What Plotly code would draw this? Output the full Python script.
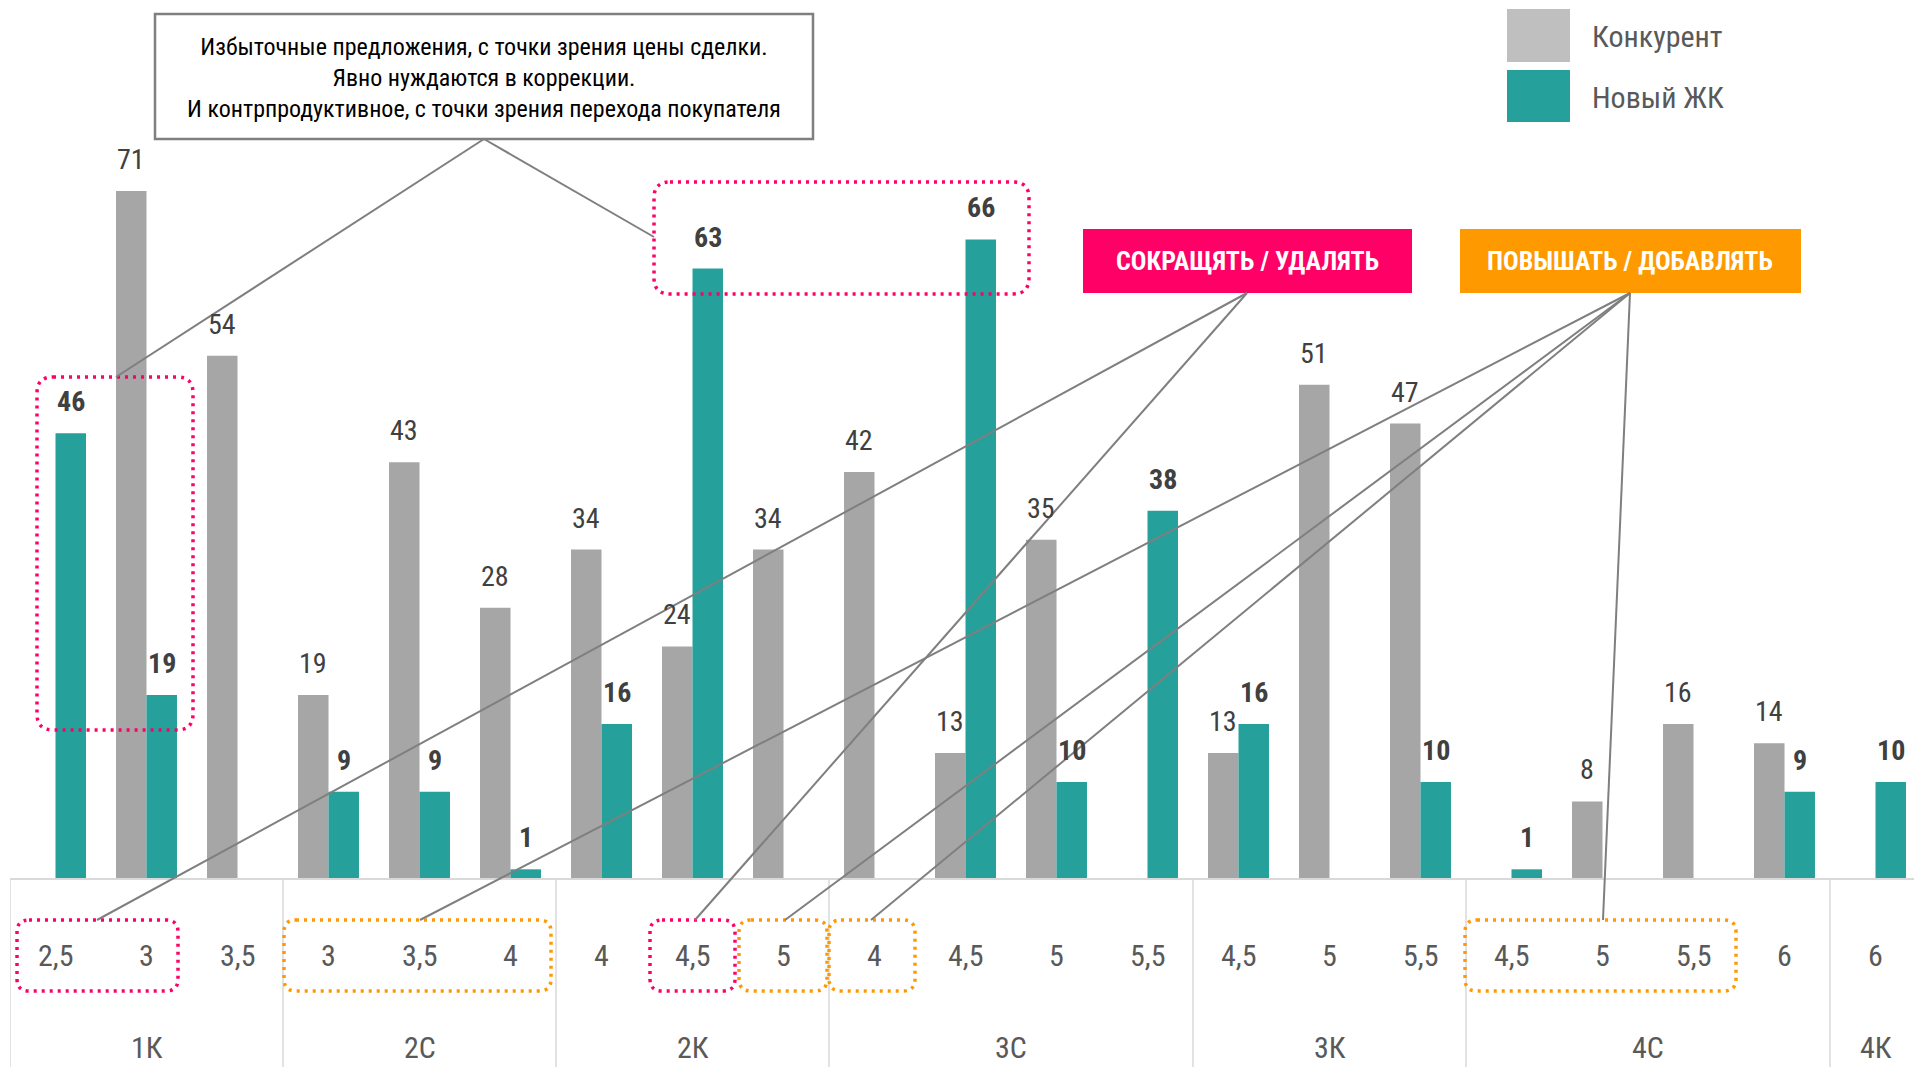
import plotly.graph_objects as go

# Price-band labels (second tick row) and apartment-type groups (first tick row)
price_labels = ["2,5", "3", "3,5",
                "3", "3,5", "4",
                "4", "4,5", "5",
                "4", "4,5", "5", "5,5",
                "4,5", "5", "5,5",
                "4,5", "5", "5,5", "6",
                "6"]
group_labels = ["1К", "2С", "2К", "3С", "3К", "4С", "4К"]
group_sizes = [3, 3, 3, 4, 3, 4, 1]

# Number of offers per band
competitor = [None, 71, 54,
              19, 43, 28,
              34, 24, 34,
              42, 13, 35, None,
              13, 51, 47,
              None, 8, 16, 14,
              None]
new_project = [46, 19, None,
               9, 9, 1,
               16, 63, None,
               None, 66, 10, 38,
               16, None, 10,
               1, None, None, 9,
               10]

series_names = ["Конкурент", "Новый ЖК"]

# ---- styling / geometry ----
W, H = 1914, 1067
LEFT, BOTTOM = 10, 879          # plot area edges in px
PLOT_W = W - LEFT
SLOT = 91.0                     # px per category
PX_PER_UNIT = 9.69              # px per offer
BAR_W = SLOT * 0.335

GRAY = "#A6A6A6"
GRAY_LEG = "#BFBFBF"
TEAL = "#26A09B"
PINK = "#FF0066"
ORANGE = "#FF9900"
LINE = "#7F7F7F"
GRID = "#D9D9D9"
TXT = "#404040"
TXT2 = "#595959"
FONT = "Liberation Sans Narrow, Arial Narrow, Roboto Condensed, DejaVu Sans Condensed, sans-serif"


def px(p):
    return (p - LEFT) / PLOT_W


def py(p):
    return (BOTTOM - p) / BOTTOM


xs = list(range(len(price_labels)))

fig = go.Figure()
fig.add_trace(go.Bar(x=xs, y=competitor, name=series_names[0],
                     marker=dict(color=GRAY, line=dict(width=0))))
fig.add_trace(go.Bar(x=xs, y=new_project, name=series_names[1],
                     marker=dict(color=TEAL, line=dict(width=0))))

shapes = []
annotations = []


def note(x, y, text, size, color, xref="paper", yref="paper", xanchor="center",
         yanchor="middle", **kw):
    annotations.append(dict(x=x, y=y, xref=xref, yref=yref, text=text, showarrow=False,
                            xanchor=xanchor, yanchor=yanchor,
                            font=dict(family=FONT, size=size, color=color), **kw))


# value labels above bars
for i, v in enumerate(competitor):
    if v is not None:
        note(i, v, str(v), 28, TXT, xref="x", yref="y", yanchor="bottom",
             xshift=-BAR_W / 2, yshift=13)
for i, v in enumerate(new_project):
    if v is not None:
        note(i, v, "<b>%d</b>" % v, 28, TXT, xref="x", yref="y", yanchor="bottom",
             xshift=BAR_W / 2, yshift=13)

# price-band tick labels
for i, lab in enumerate(price_labels):
    note(i, py(955), lab, 30, TXT2, xref="x")

# group labels and dividers
start = 0
bounds = [0]
for g, n in zip(group_labels, group_sizes):
    note(start + (n - 1) / 2, py(1047), g, 30, TXT2, xref="x")
    start += n
    bounds.append(start)
for b in bounds:
    shapes.append(dict(type="line", xref="x", yref="paper", x0=b - 0.5, x1=b - 0.5,
                       y0=py(BOTTOM), y1=py(H + 5), line=dict(color=GRID, width=1.5)))

# axis base line
shapes.append(dict(type="line", xref="paper", yref="paper", x0=0, x1=1,
                   y0=py(BOTTOM), y1=py(BOTTOM), line=dict(color=GRID, width=2)))


def rounded_box(x0, y0, x1, y1, r, color):
    """Dotted rounded rectangle given in pixel coordinates (drawn in paper space)."""
    X0, X1 = px(x0), px(x1)
    Y0, Y1 = py(y0), py(y1)
    rx, ry = r / PLOT_W, r / BOTTOM
    path = (f"M {X0 + rx} {Y0} L {X1 - rx} {Y0} Q {X1} {Y0} {X1} {Y0 - ry} "
            f"L {X1} {Y1 + ry} Q {X1} {Y1} {X1 - rx} {Y1} "
            f"L {X0 + rx} {Y1} Q {X0} {Y1} {X0} {Y1 + ry} "
            f"L {X0} {Y0 - ry} Q {X0} {Y0} {X0 + rx} {Y0} Z")
    return dict(type="path", xref="paper", yref="paper", path=path,
                line=dict(color=color, width=3.5, dash="3px,5px"))


def seg(x0, y0, x1, y1):
    return dict(type="line", xref="paper", yref="paper", x0=px(x0), y0=py(y0),
                x1=px(x1), y1=py(y1), line=dict(color=LINE, width=2))


# highlight boxes around bars
shapes.append(rounded_box(37, 377, 193, 730, 16, PINK))
shapes.append(rounded_box(654, 182, 1029, 294, 16, PINK))

# highlight boxes around tick labels
TB0, TB1 = 920, 991
shapes.append(rounded_box(17, TB0, 178, TB1, 12, PINK))
shapes.append(rounded_box(284, TB0, 551, TB1, 12, ORANGE))
shapes.append(rounded_box(650, TB0, 735, TB1, 12, PINK))
shapes.append(rounded_box(739, TB0, 827, TB1, 12, ORANGE))
shapes.append(rounded_box(829, TB0, 915, TB1, 12, ORANGE))
shapes.append(rounded_box(1465, TB0, 1736, TB1, 12, ORANGE))

# comment box
shapes.append(dict(type="rect", xref="paper", yref="paper", x0=px(155), x1=px(813),
                   y0=py(14), y1=py(139), line=dict(color=LINE, width=2.5),
                   fillcolor="white", layer="above"))
note(px(484), py(78),
     "Избыточные предложения, с точки зрения цены сделки.<br>"
     "Явно нуждаются в коррекции.<br>"
     "И контрпродуктивное, с точки зрения перехода покупателя",
     24, "#000000", align="center")
shapes.append(seg(484, 139, 116, 377))
shapes.append(seg(484, 139, 654, 237))

# action labels
shapes.append(dict(type="rect", xref="paper", yref="paper", x0=px(1083), x1=px(1412),
                   y0=py(229), y1=py(293), line=dict(width=0), fillcolor=PINK))
shapes.append(dict(type="rect", xref="paper", yref="paper", x0=px(1460), x1=px(1801),
                   y0=py(229), y1=py(293), line=dict(width=0), fillcolor=ORANGE))
note(px(1247), py(261), "<b>СОКРАЩЯТЬ / УДАЛЯТЬ</b>", 26, "white")
note(px(1630), py(261), "<b>ПОВЫШАТЬ / ДОБАВЛЯТЬ</b>", 26, "white")
for tx in (97, 695):
    shapes.append(seg(1247, 293, tx, TB0))
for tx in (420, 785, 871, 1603):
    shapes.append(seg(1630, 293, tx, TB0))

# legend
for (y0, y1, col, name) in ((9, 62, GRAY_LEG, series_names[0]),
                            (70, 122, TEAL, series_names[1])):
    shapes.append(dict(type="rect", xref="paper", yref="paper", x0=px(1507), x1=px(1570),
                       y0=py(y0), y1=py(y1), line=dict(width=0), fillcolor=col))
    note(px(1590), py((y0 + y1) / 2 + 1), name, 30, TXT2, xanchor="left")

fig.update_layout(
    width=W, height=H,
    margin=dict(l=LEFT, r=0, t=0, b=H - BOTTOM, pad=0),
    paper_bgcolor="white", plot_bgcolor="white",
    barmode="group", bargap=0.33, bargroupgap=0,
    showlegend=False,
    xaxis=dict(range=[-0.5, -0.5 + PLOT_W / SLOT], showticklabels=False, ticks="",
               showgrid=False, zeroline=False, showline=False, fixedrange=True),
    yaxis=dict(range=[0, BOTTOM / PX_PER_UNIT], visible=False, showgrid=False,
               zeroline=False, fixedrange=True),
    shapes=shapes, annotations=annotations,
    font=dict(family=FONT),
)

fig.write_html("out.html", config={"displayModeBar": False})
